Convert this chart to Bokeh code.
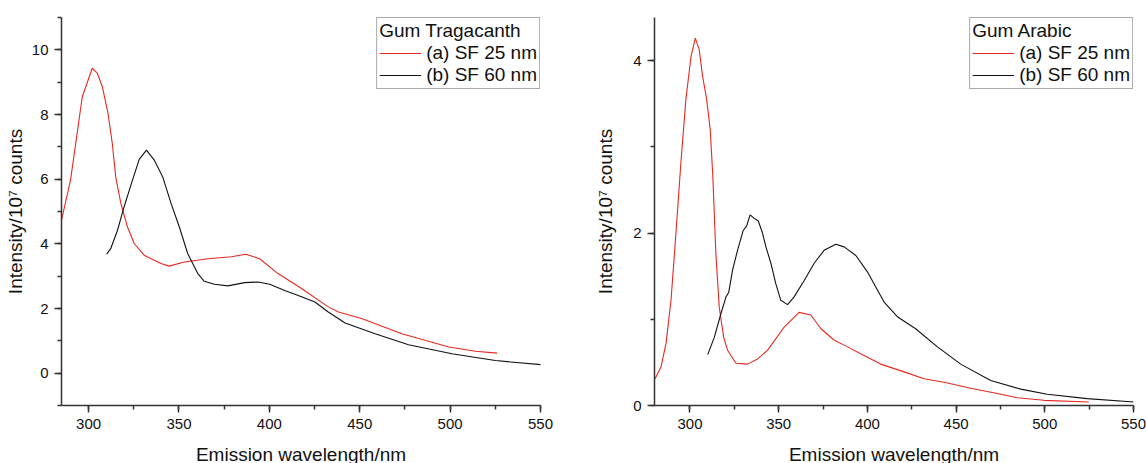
from bokeh.plotting import figure
from bokeh.layouts import row
from bokeh.models import Range1d, SingleIntervalTicker, Legend, LegendItem
from bokeh.embed import file_html
from bokeh.resources import INLINE

# ---- Gum Tragacanth (left) ----
gt_a_x = [285, 290, 296.5, 302, 304.8, 307.6, 310.7, 313.1, 315, 317.8, 321.5, 325.2, 330.7,
          340, 344.6, 353, 366, 379, 387, 394.6, 404.8, 417.8, 432.6, 438.2, 451, 473.3,
          499.3, 514, 526]
gt_a_y = [4.73, 5.97, 8.55, 9.43, 9.28, 8.86, 8.04, 7.11, 6.07, 5.26, 4.52, 4.01, 3.65,
          3.39, 3.31, 3.44, 3.54, 3.6, 3.68, 3.54, 3.08, 2.62, 2.05, 1.89, 1.69, 1.22,
          0.81, 0.68, 0.62]
gt_b_x = [310, 312.2, 316, 319.6, 323.7, 328, 332, 336.3, 341, 345.6, 350.2, 354.8, 360.4,
          364, 369.6, 377, 386.3, 393.7, 400.2, 408.5, 417.8, 425.2, 432.6, 441.9, 458.5,
          477, 501, 525, 551]
gt_b_y = [3.68, 3.85, 4.42, 5.14, 5.87, 6.61, 6.9, 6.59, 6.07, 5.25, 4.52, 3.7, 3.08,
          2.84, 2.75, 2.70, 2.8, 2.82, 2.75, 2.56, 2.36, 2.2, 1.89, 1.55, 1.22,
          0.88, 0.6, 0.39, 0.26]

# ---- Gum Arabic (right) ----
ga_a_x = [280.3, 283.7, 286.5, 289.3, 292.1, 295, 297.7, 300.6, 303, 305.2, 307.1, 309.4,
          311.4, 312.8, 314.6, 316.5, 319, 321.2, 325.9, 332.5, 338.1, 343.7, 353.1, 361.5,
          368.1, 373.8, 381.2, 388.8, 398.1, 407.5, 420.7, 431.9, 443.2, 458.2, 473.2,
          484.5, 499.5, 524.8]
ga_a_y = [0.31, 0.45, 0.72, 1.22, 2.0, 2.85, 3.55, 4.05, 4.26, 4.13, 3.82, 3.55,
          3.2, 2.69, 1.76, 1.14, 0.79, 0.64, 0.49, 0.48, 0.54, 0.64, 0.91, 1.08,
          1.05, 0.89, 0.76, 0.68, 0.58, 0.48, 0.39, 0.31, 0.27, 0.20, 0.14,
          0.09, 0.06, 0.04]
ga_b_x = [310, 313.7, 317.5, 320.3, 321.8, 324, 326.8, 330, 331.9, 333.9, 336.2, 338.5,
          340.9, 342.8, 345.6, 348.4, 351.2, 355, 358.7, 364.4, 370, 375.6, 382.2, 386.9,
          393.5, 400, 409.4, 416.9, 427.2, 439.5, 452.6, 469.5, 486.4, 501.4, 523.9, 550.2]
ga_b_y = [0.59, 0.79, 1.07, 1.26, 1.31, 1.57, 1.8, 2.03, 2.08, 2.21, 2.17, 2.14,
          2.0, 1.84, 1.65, 1.41, 1.22, 1.17, 1.26, 1.45, 1.65, 1.8, 1.87, 1.84,
          1.74, 1.55, 1.2, 1.03, 0.89, 0.68, 0.48, 0.29, 0.19, 0.13, 0.08, 0.04]

series_labels = ["(a) SF 25 nm", "(b) SF 60 nm"]
titles = ["Gum Tragacanth", "Gum Arabic"]
x_label = "Emission wavelength/nm"
y_label = "Intensity/10\u2077 counts"

FONT = "Liberation Sans"
RED = "#e8281e"
BLACK = "#111111"
AX = "#333333"
TXT = "#111111"


def make_panel(xr, yr, yint, ax, ay, bx, by, title, bl, br, ystand):
    p = figure(frame_width=479, frame_height=388,
               x_range=Range1d(*xr), y_range=Range1d(*yr),
               output_backend="svg", toolbar_location=None,
               min_border_left=bl, min_border_right=br,
               min_border_top=17, min_border_bottom=58)
    p.outline_line_color = None
    p.grid.visible = False
    p.background_fill_color = "white"
    p.border_fill_color = "white"
    p.xaxis.ticker = SingleIntervalTicker(interval=50, num_minor_ticks=2)
    p.yaxis.ticker = SingleIntervalTicker(interval=yint, num_minor_ticks=2)
    for axis in (p.xaxis, p.yaxis):
        axis.axis_line_color = AX
        axis.axis_line_width = 1.5
        axis.major_tick_line_color = AX
        axis.minor_tick_line_color = AX
        axis.major_tick_line_width = 1.5
        axis.minor_tick_line_width = 1.5
        axis.major_tick_out = 7
        axis.major_tick_in = 0
        axis.minor_tick_out = 4
        axis.minor_tick_in = 0
        axis.major_label_text_font = FONT
        axis.major_label_text_font_size = "15px"
        axis.major_label_text_color = TXT
        axis.axis_label_text_font = FONT
        axis.axis_label_text_font_size = "19px"
        axis.axis_label_text_font_style = "normal"
        axis.axis_label_text_color = TXT
    p.xaxis.axis_label = x_label
    p.yaxis.axis_label = y_label
    p.xaxis.major_label_standoff = 6
    p.xaxis.axis_label_standoff = 12
    p.yaxis.major_label_standoff = 6
    p.yaxis.axis_label_standoff = ystand

    ra = p.line(ax, ay, line_color=RED, line_width=1.1)
    rb = p.line(bx, by, line_color=BLACK, line_width=1.1)

    leg = Legend(items=[LegendItem(label=series_labels[0], renderers=[ra]),
                        LegendItem(label=series_labels[1], renderers=[rb])],
                 title=title, location="top_right")
    leg.margin = 0
    leg.padding = 2
    leg.spacing = 0
    leg.title_standoff = 0
    leg.glyph_width = 42
    leg.glyph_height = 20
    leg.label_height = 20
    leg.label_standoff = 5
    leg.label_text_font = FONT
    leg.label_text_font_size = "19px"
    leg.label_text_color = TXT
    leg.title_text_font = FONT
    leg.title_text_font_size = "19px"
    leg.title_text_font_style = "normal"
    leg.title_text_color = TXT
    leg.border_line_color = "#555555"
    leg.border_line_width = 1.2
    leg.background_fill_alpha = 1.0
    p.add_layout(leg)
    return p


p1 = make_panel((285, 550), (-1, 11), 2, gt_a_x, gt_a_y, gt_b_x, gt_b_y,
                titles[0], 61, 33, 3)
p2 = make_panel((280, 550), (0, 4.5), 2, ga_a_x, ga_a_y, ga_b_x, ga_b_y,
                titles[1], 81, 13, 14)

layout = row(p1, p2, spacing=0)
open("out.html", "w").write(file_html(layout, INLINE))
